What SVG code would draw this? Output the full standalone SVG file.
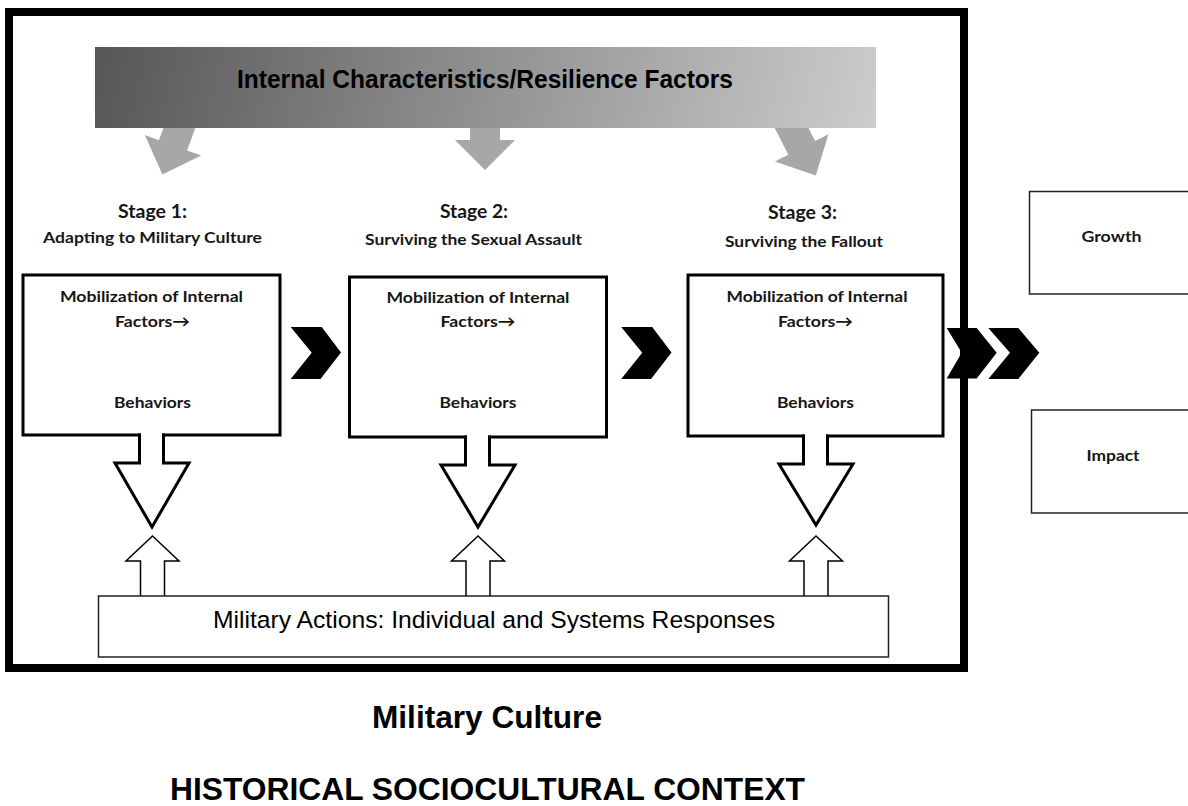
<svg xmlns="http://www.w3.org/2000/svg" width="1188" height="806" viewBox="0 0 1188 806">
<style>
.cal{font-family:Lato,"Open Sans","DejaVu Sans",sans-serif;font-weight:bold;fill:#161616;text-anchor:middle}
.ar{font-family:"Liberation Sans",Arial,sans-serif;fill:#000;text-anchor:middle}
.box{fill:none;stroke:#000;stroke-width:3;stroke-linecap:square;stroke-linejoin:miter}
.dn{fill:none;stroke:#000;stroke-width:3;stroke-linecap:square;stroke-linejoin:miter}
.up{fill:#fff;stroke:#000;stroke-width:1.5;stroke-linejoin:miter}
.chev{fill:#000}
.gray{fill:#a9a6a6}
.out{fill:#fff;stroke:#222;stroke-width:1.5}
</style>
<defs>
<linearGradient id="bg" gradientUnits="userSpaceOnUse" x1="95" y1="20" x2="876" y2="220">
<stop offset="0" stop-color="#555555"/>
<stop offset="1" stop-color="#d0d0d0"/>
</linearGradient>
</defs>
<rect x="0" y="0" width="1188" height="806" fill="#fff"/>

<g id="connectors">
<path class="gray" transform="translate(173,145.35) rotate(20)" d="M-15,-45 H15 V0 H30 L0,31 L-30,0 H-15 Z"/>
<path class="gray" transform="translate(485,140)" d="M-15,-30 H15 V0 H30 L0,30 L-30,0 H-15 Z"/>
<path class="gray" transform="translate(801.7,147.85) rotate(-27)" d="M-15,-45 H15 V0 H30 L0,31 L-30,0 H-15 Z"/>

<path class="dn" d="M139.5,435 V463 H115 L152,527 L189,463 H163.5 V435"/>
<path class="dn" d="M465.5,437 V465 H441 L478,527 L515,465 H489.5 V437"/>
<path class="dn" d="M803.5,436 V464 H779 L816,525 L853,464 H827.5 V436"/>

<path class="up" d="M140.5,596 V561 H126 L152.5,536 L179,561 H164.5 V596"/>
<path class="up" d="M466,596 V561 H451.5 L478,536 L504.5,561 H490 V596"/>
<path class="up" d="M804,596 V561 H789.5 L816,536 L842.5,561 H828 V596"/>

<path class="chev" d="M290.7,327 L321.7,327 L341,352.5 L320.5,379 L290.7,379 L311.7,352.7 Z"/>
<path class="chev" d="M621.2,327 L652.2,327 L671.5,352.5 L651,379 L621.2,379 L642.2,352.7 Z"/>
<path class="chev" d="M946.7,328 L976.7,328 L996.7,352.7 L976.7,378.5 L946.7,378.5 L961.7,352.7 Z"/>
<path class="chev" d="M988.3,328 L1018.3,328 L1039.3,352.7 L1018.3,379 L988.3,379 L1010,352.7 Z"/>
</g>

<g id="frame">
<rect x="9" y="12" width="955" height="656" fill="none" stroke="#000" stroke-width="8"/>
</g>

<g id="banner">
<rect x="95" y="47" width="781" height="81" fill="url(#bg)"/>
<text class="ar" x="485" y="88" font-size="25" font-weight="bold" textLength="496" lengthAdjust="spacingAndGlyphs">Internal Characteristics/Resilience Factors</text>
</g>

<g id="stage1">
<text class="cal" x="152.5" y="218" font-size="18" textLength="69" lengthAdjust="spacingAndGlyphs">Stage 1:</text>
<text class="cal" x="152.5" y="243" font-size="15.5" textLength="219" lengthAdjust="spacingAndGlyphs">Adapting to Military Culture</text>
<path class="box" d="M139.5,435 H23 V275 H280 V435 H163.5"/>
<text class="cal" x="151.5" y="302" font-size="15.5" textLength="183" lengthAdjust="spacingAndGlyphs">Mobilization of Internal</text>
<text class="cal" x="152.5" y="327" font-size="15.5" textLength="75" lengthAdjust="spacingAndGlyphs">Factors→</text>
<text class="cal" x="152.5" y="408" font-size="15.5" textLength="77" lengthAdjust="spacingAndGlyphs">Behaviors</text>
</g>

<g id="stage2">
<text class="cal" x="474" y="218" font-size="18" textLength="68" lengthAdjust="spacingAndGlyphs">Stage 2:</text>
<text class="cal" x="473.5" y="245" font-size="15.5" textLength="217" lengthAdjust="spacingAndGlyphs">Surviving the Sexual Assault</text>
<path class="box" d="M465.5,437 H349.5 V277 H606.5 V437 H489.5"/>
<text class="cal" x="478" y="303" font-size="15.5" textLength="183" lengthAdjust="spacingAndGlyphs">Mobilization of Internal</text>
<text class="cal" x="478" y="327" font-size="15.5" textLength="75" lengthAdjust="spacingAndGlyphs">Factors→</text>
<text class="cal" x="478" y="408" font-size="15.5" textLength="77" lengthAdjust="spacingAndGlyphs">Behaviors</text>
</g>

<g id="stage3">
<text class="cal" x="802.5" y="219" font-size="18" textLength="69" lengthAdjust="spacingAndGlyphs">Stage 3:</text>
<text class="cal" x="804" y="247" font-size="15.5" textLength="158" lengthAdjust="spacingAndGlyphs">Surviving the Fallout</text>
<path class="box" d="M803.5,436 H688 V275 H943 V436 H827.5"/>
<text class="cal" x="817" y="302" font-size="15.5" textLength="181" lengthAdjust="spacingAndGlyphs">Mobilization of Internal</text>
<text class="cal" x="815.5" y="327" font-size="15.5" textLength="75" lengthAdjust="spacingAndGlyphs">Factors→</text>
<text class="cal" x="815.5" y="408" font-size="15.5" textLength="77" lengthAdjust="spacingAndGlyphs">Behaviors</text>
</g>

<g id="growth">
<rect class="out" x="1029.5" y="191.5" width="170" height="102.5"/>
<text class="cal" x="1111.5" y="242" font-size="15.5" textLength="60" lengthAdjust="spacingAndGlyphs">Growth</text>
</g>

<g id="impact">
<rect class="out" x="1031.5" y="410" width="170" height="103"/>
<text class="cal" x="1113" y="461" font-size="15.5" textLength="53" lengthAdjust="spacingAndGlyphs">Impact</text>
</g>

<g id="military-actions">
<rect class="out" x="98.5" y="596" width="790" height="61"/>
<text class="ar" x="494" y="628" font-size="24.5" textLength="562" lengthAdjust="spacingAndGlyphs">Military Actions: Individual and Systems Responses</text>
</g>

<g id="labels">
<text class="ar" x="487" y="728" font-size="31" font-weight="bold" textLength="230" lengthAdjust="spacingAndGlyphs">Military Culture</text>
<text class="ar" x="487.5" y="800" font-size="30.5" font-weight="bold" textLength="635" lengthAdjust="spacingAndGlyphs">HISTORICAL SOCIOCULTURAL CONTEXT</text>
</g>
</svg>
